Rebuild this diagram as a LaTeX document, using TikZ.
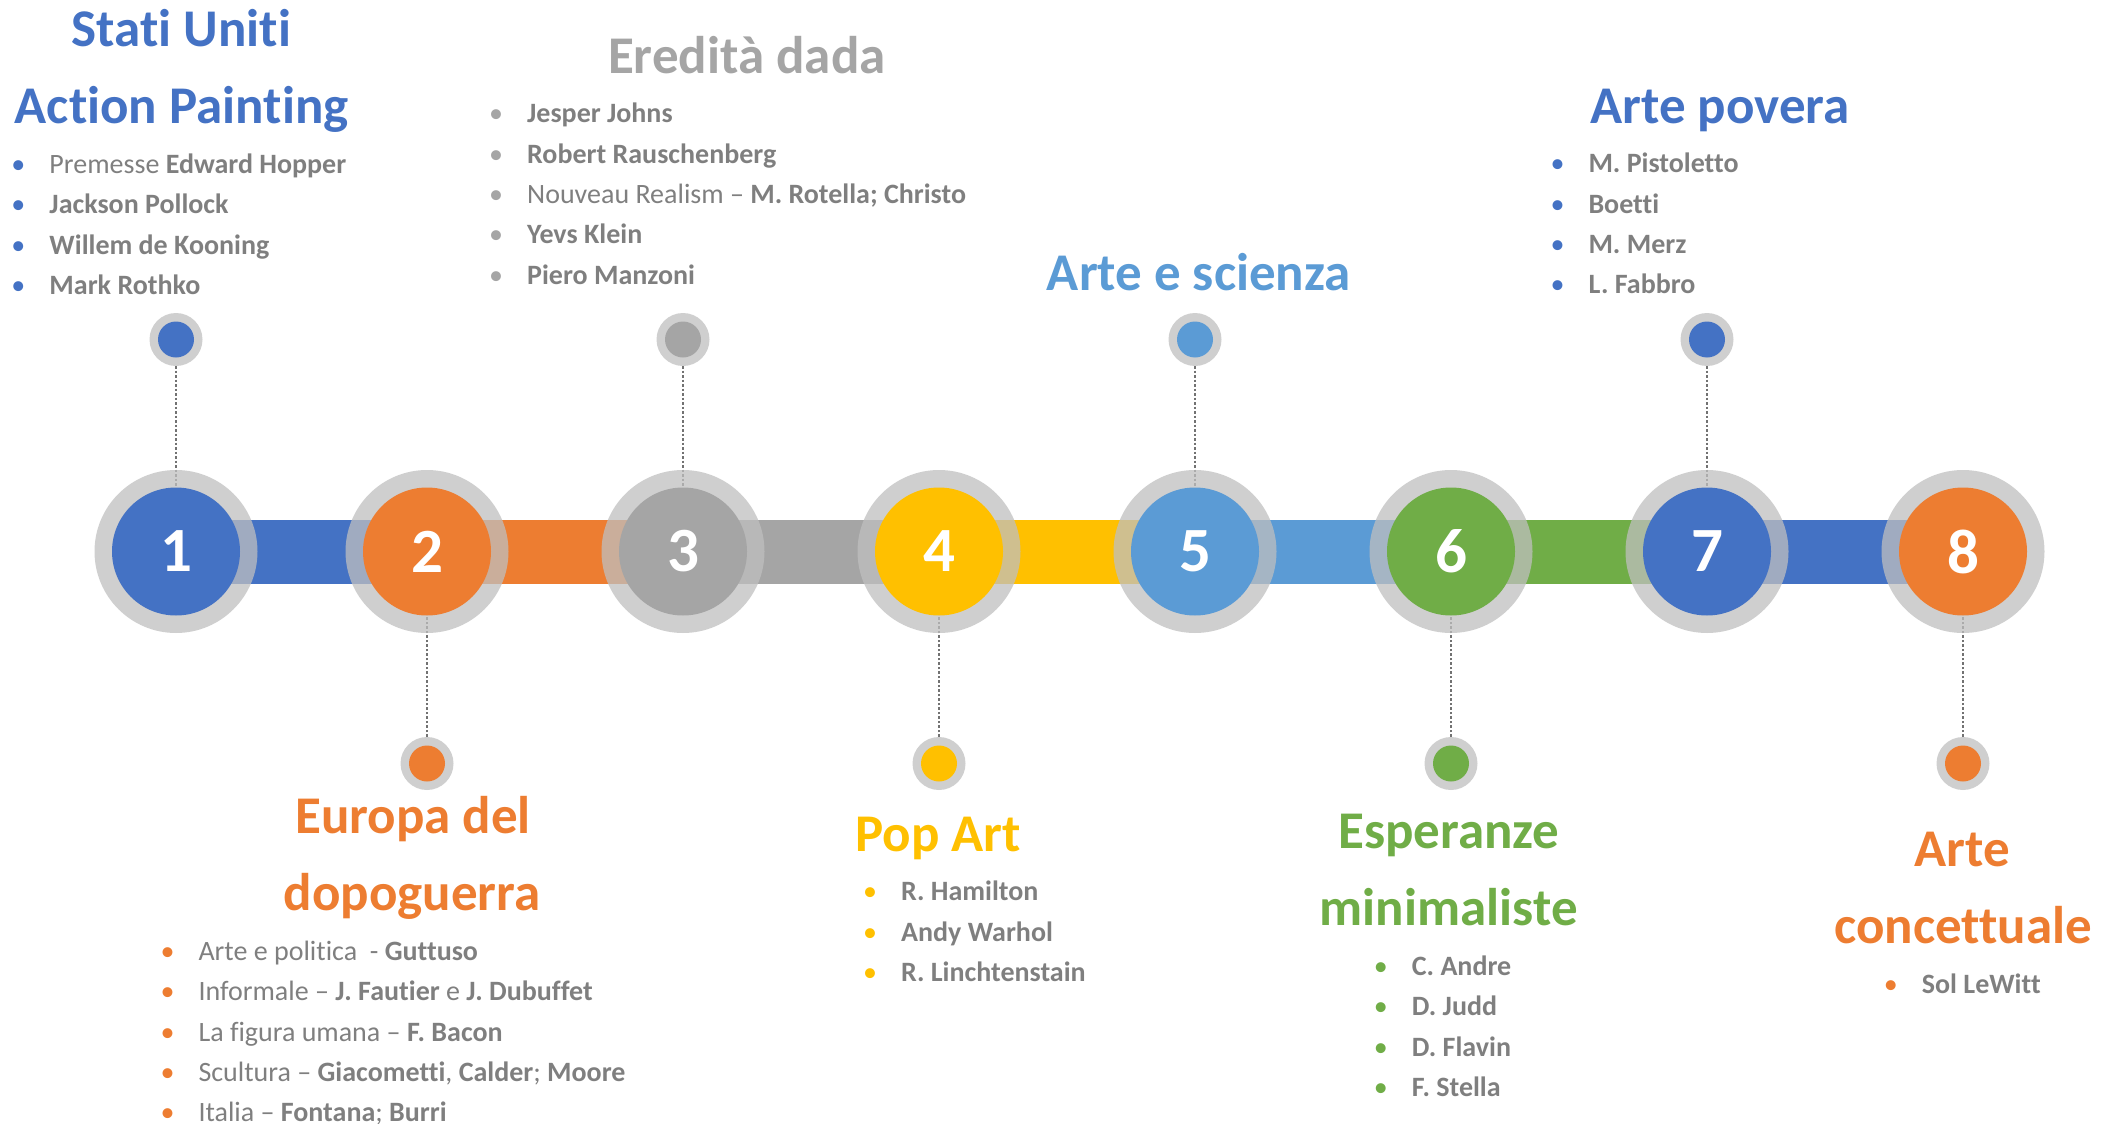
\documentclass[tikz,border=0pt]{standalone}
\usepackage{fontspec}
\setmainfont{Carlito}[Ligatures=CommonOff]
\usetikzlibrary{backgrounds}
\definecolor{cblue}{HTML}{4472C4}
\definecolor{corange}{HTML}{ED7D31}
\definecolor{cgray}{HTML}{A5A5A5}
\definecolor{cyellow}{HTML}{FFC000}
\definecolor{clight}{HTML}{5B9BD5}
\definecolor{cgreen}{HTML}{70AD47}
\definecolor{txtgray}{HTML}{7F7F7F}
\definecolor{ringgray}{HTML}{BFBFBF}
% bullet item: coloured dot, then text
\newcommand{\itm}[2]{\rule{0pt}{24pt}\makebox[38pt][l]{\textcolor{#1}{•}}#2}

\begin{document}
\begin{tikzpicture}[x=1pt, y=-1pt,
			ring/.style={circle, fill=ringgray, fill opacity=0.75, minimum size=163pt, inner sep=0pt},
			disc/.style={
				circle,
				minimum size=128pt,
				inner sep=0pt,
				text=white,
				font=\fontsize{63}{70}\selectfont\bfseries,
			},
			dotring/.style={circle, fill=ringgray, fill opacity=0.75, minimum size=53pt, inner sep=0pt},
			smalldisc/.style={circle, minimum size=36pt, inner sep=0pt},
			band/.style={line width=64pt},
			leader/.style={% dotted stems
				draw=txtgray!90!black,
				line width=2.5pt,
				dash pattern=on 2.5pt off 2pt,
			},
			heading/.style={anchor=base, inner sep=0pt, font=\fontsize{53}{64}\selectfont\bfseries},
			items/.style={anchor=north west, inner sep=0pt, align=left, text=txtgray, font=\fontsize{28}{40.4}\selectfont},
			]
				\useasboundingbox (0,0) rectangle (2113,1124);
				
				% timeline
				\node[ring] (r1) at (176,551.5) {};
				\node[disc, fill=cblue] (n1) at (176,551.5) {1};
				\node[ring] (r2) at (427,551.5) {};
				\node[disc, fill=corange] (n2) at (427,551.5) {2};
				\node[ring] (r3) at (683,551.5) {};
				\node[disc, fill=cgray] (n3) at (683,551.5) {3};
				\node[ring] (r4) at (939,551.5) {};
				\node[disc, fill=cyellow] (n4) at (939,551.5) {4};
				\node[ring] (r5) at (1195,551.5) {};
				\node[disc, fill=clight] (n5) at (1195,551.5) {5};
				\node[ring] (r6) at (1451,551.5) {};
				\node[disc, fill=cgreen] (n6) at (1451,551.5) {6};
				\node[ring] (r7) at (1707,551.5) {};
				\node[disc, fill=cblue] (n7) at (1707,551.5) {7};
				\node[ring] (r8) at (1963,551.5) {};
				\node[disc, fill=corange] (n8) at (1963,551.5) {8};
				
				% small circles
				\node[dotring] (s1) at (176,339.5) {};
				\node[smalldisc, fill=cblue] (d1) at (176,339.5) {};
				\node[dotring] (s2) at (427,763.5) {};
				\node[smalldisc, fill=corange] (d2) at (427,763.5) {};
				\node[dotring] (s3) at (683,339.5) {};
				\node[smalldisc, fill=cgray] (d3) at (683,339.5) {};
				\node[dotring] (s4) at (939,763.5) {};
				\node[smalldisc, fill=cyellow] (d4) at (939,763.5) {};
				\node[dotring] (s5) at (1195,339.5) {};
				\node[smalldisc, fill=clight] (d5) at (1195,339.5) {};
				\node[dotring] (s6) at (1451,763.5) {};
				\node[smalldisc, fill=cgreen] (d6) at (1451,763.5) {};
				\node[dotring] (s7) at (1707,339.5) {};
				\node[smalldisc, fill=cblue] (d7) at (1707,339.5) {};
				\node[dotring] (s8) at (1963,763.5) {};
				\node[smalldisc, fill=corange] (d8) at (1963,763.5) {};
				
				% top texts
				\node[heading, text=cblue] (t1a) at (181.5,46.7) {Stati Uniti};
				\node[heading, text=cblue] (t1b) at (181.7,123.3) {Action Painting};
				\node[items] (l1) at (11.3,149.3) {\itm{cblue}{Premesse \textbf{Edward Hopper}}\\
					\itm{cblue}{\textbf{Jackson Pollock}}\\
					\itm{cblue}{\textbf{Willem de Kooning}}\\
					\itm{cblue}{\textbf{Mark Rothko}}};
				
				\node[heading, text=cgray] (t3) at (746.8,73.3) {Eredità dada};
				\node[items] (l3) at (489,98.5) {\itm{cgray}{\textbf{Jesper Johns}}\\
					\itm{cgray}{\textbf{Robert Rauschenberg}}\\
					\itm{cgray}{Nouveau Realism – \textbf{M. Rotella; Christo}}\\
					\itm{cgray}{\textbf{Yevs Klein}}\\
					\itm{cgray}{\textbf{Piero Manzoni}}};
				
				\node[heading, text=clight] (t5) at (1199,290) {Arte e scienza};
				
				\node[heading, text=cblue] (t7) at (1720,123.3) {Arte povera};
				\node[items] (l7) at (1550.3,148.5) {\itm{cblue}{\textbf{M. Pistoletto}}\\
					\itm{cblue}{\textbf{Boetti}}\\
					\itm{cblue}{\textbf{M. Merz}}\\
					\itm{cblue}{\textbf{L. Fabbro}}};
				
				% bottom texts
				\node[heading, text=corange] (t2a) at (413,833.3) {Europa del};
				\node[heading, text=corange] (t2b) at (412,910) {dopoguerra};
				\node[items] (l2) at (160.3,936) {\itm{corange}{Arte e politica\ \ - \textbf{Guttuso}}\\
					\itm{corange}{Informale – \textbf{J. Fautier} e \textbf{J. Dubuffet}}\\
					\itm{corange}{La figura umana – \textbf{F. Bacon}}\\
					\itm{corange}{Scultura – \textbf{Giacometti}, \textbf{Calder}; \textbf{Moore}}\\
					\itm{corange}{Italia – \textbf{Fontana}; \textbf{Burri}}};
				
				\node[heading, text=cyellow] (t4) at (938.3,851.7) {Pop Art};
				\node[items] (l4) at (863,876.7) {\itm{cyellow}{\textbf{R. Hamilton}}\\
					\itm{cyellow}{\textbf{Andy Warhol}}\\
					\itm{cyellow}{\textbf{R. Linchtenstain}}};
				
				\node[heading, text=cgreen] (t6a) at (1448.8,848.3) {Esperanze};
				\node[heading, text=cgreen] (t6b) at (1448.7,925) {minimaliste};
				\node[items] (l6) at (1373.7,951) {\itm{cgreen}{\textbf{C. Andre}}\\
					\itm{cgreen}{\textbf{D. Judd}}\\
					\itm{cgreen}{\textbf{D. Flavin}}\\
					\itm{cgreen}{\textbf{F. Stella}}};
				
				\node[heading, text=corange] (t8a) at (1962.5,866.2) {Arte};
				\node[heading, text=corange] (t8b) at (1963.3,943) {concettuale};
				\node[items] (l8) at (1883.7,969) {\itm{corange}{\textbf{Sol LeWitt}}};
				
				\begin{scope}[on background layer]
				% bands
				\draw[band, cblue] (n1.center) -- (n2.center);
				\draw[band, corange] (n2.center) -- (n3.center);
				\draw[band, cgray] (n3.center) -- (n4.center);
				\draw[band, cyellow] (n4.center) -- (n5.center);
				\draw[band, clight] (n5.center) -- (n6.center);
				\draw[band, cgreen] (n6.center) -- (n7.center);
				\draw[band, cblue] (n7.center) -- (n8.center);
				
				% stems
				\draw[leader] (s1) -- (n1);
				\draw[leader] (s2) -- (n2);
				\draw[leader] (s3) -- (n3);
				\draw[leader] (s4) -- (n4);
				\draw[leader] (s5) -- (n5);
				\draw[leader] (s6) -- (n6);
				\draw[leader] (s7) -- (n7);
				\draw[leader] (s8) -- (n8);
				\end{scope}
			\end{tikzpicture}
\end{document}
